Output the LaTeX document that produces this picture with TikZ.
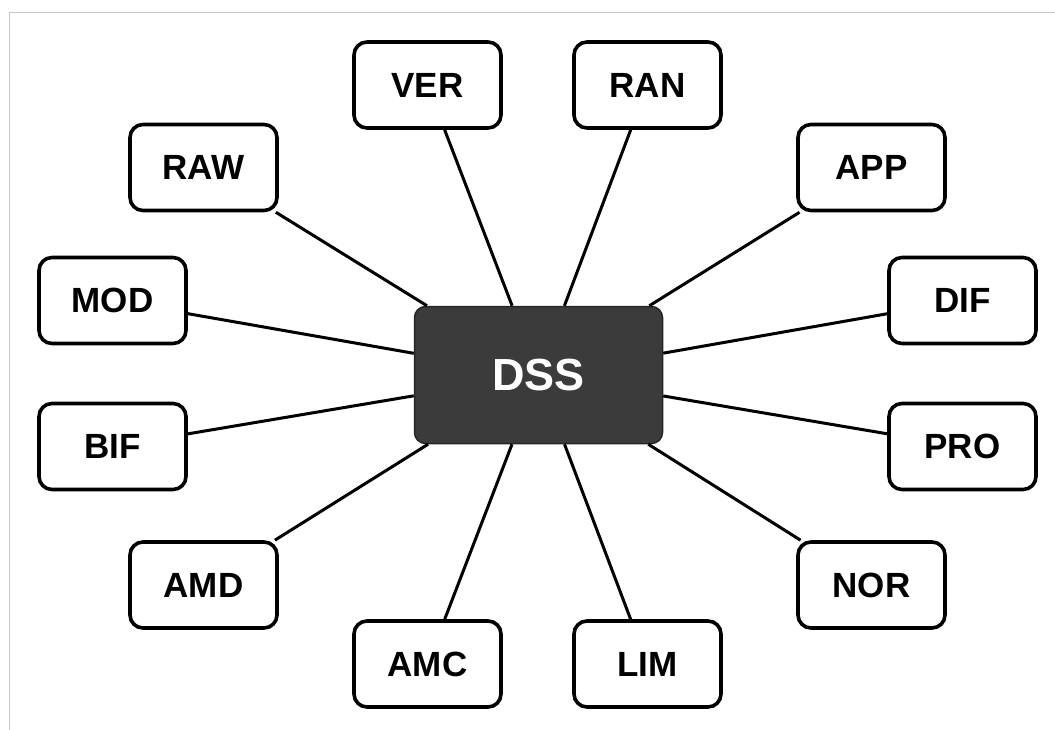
\documentclass[tikz,border=0pt]{standalone}
\usepackage{fontspec}
\setmainfont{Liberation Sans}
\begin{document}
\begin{tikzpicture}[x=1pt,y=-1pt,
  leaf/.style={draw=black,line width=3.6pt,fill=white,rounded corners=13pt,
    minimum width=147pt,minimum height=86pt,inner sep=0pt,
    font=\fontsize{35}{40}\selectfont\bfseries},
  hub/.style={draw=black!85,line width=1.5pt,fill=black!77,rounded corners=11pt,
    minimum width=248pt,minimum height=137pt,inner sep=0pt,text=white,
    font=\fontsize{45}{50}\selectfont\bfseries},
  link/.style={line width=3pt,black},
  frame/.style={draw=black!22,line width=1.2pt}]
\useasboundingbox (0,0) rectangle (1055,730);
\draw[frame] (9.5,730) -- (9.5,12.5) -- (1055,12.5);
\node[hub] (dss) at (538.5,375) {DSS};
\node[leaf] (ver) at (427.5,85) {VER};
\node[leaf] (ran) at (647.5,85) {RAN};
\node[leaf] (raw) at (203.5,167.5) {RAW};
\node[leaf] (app) at (871.5,167.5) {APP};
\node[leaf] (mod) at (112.5,300.5) {MOD};
\node[leaf] (dif) at (962.5,300.5) {DIF};
\node[leaf] (bif) at (112.5,446.5) {BIF};
\node[leaf] (pro) at (962.5,446.5) {PRO};
\node[leaf] (amd) at (203.5,585) {AMD};
\node[leaf] (nor) at (871.5,585) {NOR};
\node[leaf] (amc) at (427.5,664) {AMC};
\node[leaf] (lim) at (647.5,664) {LIM};
\foreach \n in {ver,ran,raw,app,mod,dif,bif,pro,amd,nor,amc,lim}
  \draw[link] (\n) -- (dss);
\end{tikzpicture}
\end{document}
